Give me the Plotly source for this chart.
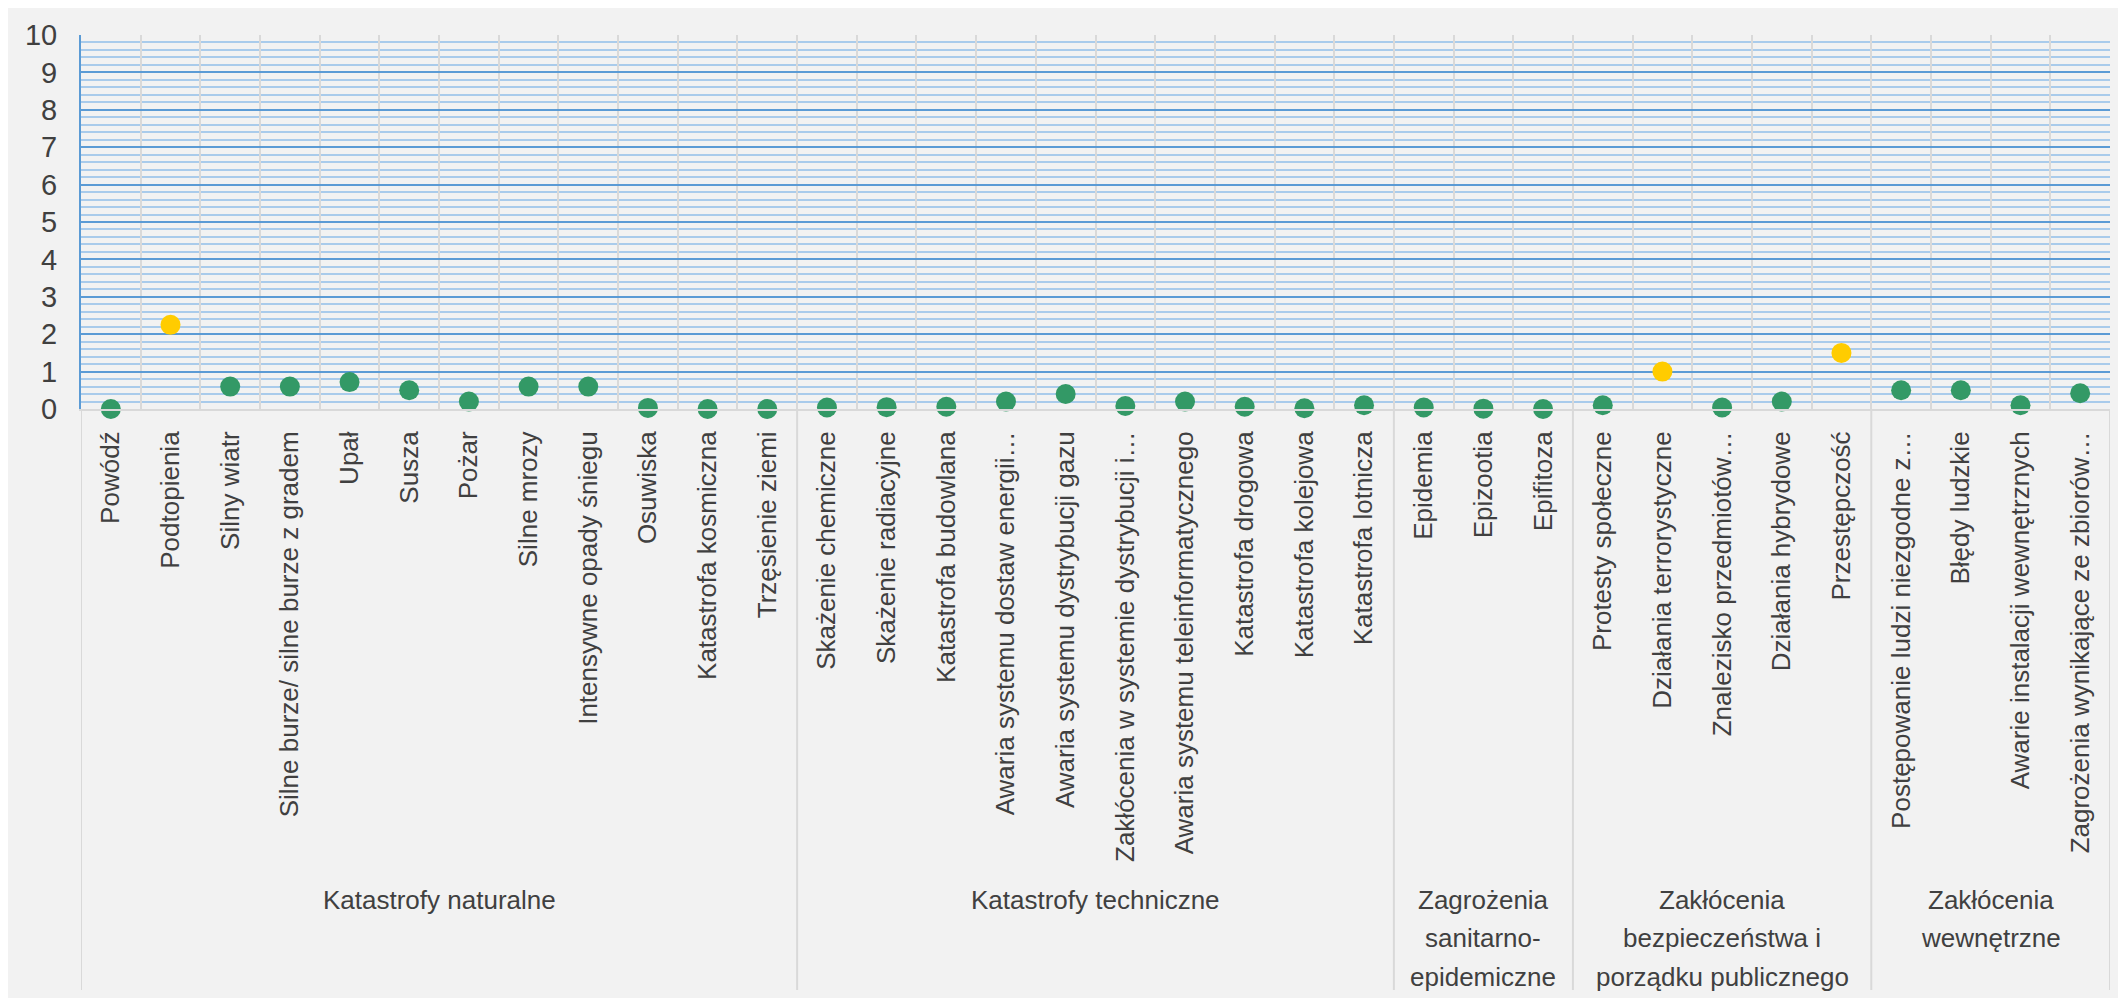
import plotly.graph_objects as go

# ---------------- data ----------------
groups = [
    "Katastrofy naturalne",
    "Katastrofy techniczne",
    "Zagrożenia<br>sanitarno-<br>epidemiczne",
    "Zakłócenia<br>bezpieczeństwa i<br>porządku publicznego",
    "Zakłócenia<br>wewnętrzne",
]

cats_natural = ["Powódź", "Podtopienia", "Silny wiatr", "Silne burze/ silne burze z gradem",
                "Upał", "Susza", "Pożar", "Silne mrozy", "Intensywne opady śniegu",
                "Osuwiska", "Katastrofa kosmiczna", "Trzęsienie ziemi"]
vals_natural = [0.0, 2.25, 0.6, 0.6, 0.72, 0.5, 0.2, 0.6, 0.6, 0.03, 0.0, 0.0]

cats_technical = ["Skażenie chemiczne", "Skażenie radiacyjne", "Katastrofa budowlana",
                  "Awaria systemu dostaw energii…", "Awaria systemu dystrybucji gazu",
                  "Zakłócenia w systemie dystrybucji i…", "Awaria systemu teleinformatycznego",
                  "Katastrofa drogowa", "Katastrofa kolejowa", "Katastrofa lotnicza"]
vals_technical = [0.04, 0.05, 0.06, 0.2, 0.4, 0.08, 0.2, 0.06, 0.02, 0.1]

cats_sanitary = ["Epidemia", "Epizootia", "Epifitoza"]
vals_sanitary = [0.04, 0.01, 0.0]

cats_security = ["Protesty społeczne", "Działania terrorystyczne", "Znalezisko przedmiotów…",
                 "Działania hybrydowe", "Przestępczość"]
vals_security = [0.1, 1.0, 0.04, 0.2, 1.5]

cats_internal = ["Postępowanie ludzi niezgodne z…", "Błędy ludzkie",
                 "Awarie instalacji wewnętrznych", "Zagrożenia wynikające ze zbiorów…"]
vals_internal = [0.5, 0.5, 0.1, 0.42]

y_ticks = [0, 1, 2, 3, 4, 5, 6, 7, 8, 9, 10]

group_cats = [cats_natural, cats_technical, cats_sanitary, cats_security, cats_internal]
group_vals = [vals_natural, vals_technical, vals_sanitary, vals_security, vals_internal]

categories = [c for g in group_cats for c in g]
values = [v for g in group_vals for v in g]

# ---------------- styles ----------------
OFF = 8                      # page body margin
W, H = 2126 - OFF, 998 - OFF
ML, MT = 81 - OFF, 35 - OFF
PR, PB = 2110 - OFF, 409 - OFF
MR, MB = W - PR, H - PB
PW, PH = W - ML - MR, H - MT - MB
FONT = "Liberation Sans, Arial, sans-serif"
FS = 26
TXT = "#404040"
GREEN = "#339966"
YELLOW = "#ffcc00"
BG = "#f2f2f2"
LINE_STEP = 38.3


def py(page_y):  # page pixel y -> paper y
    return (MT + PH - (page_y - OFF)) / PH


colors = [YELLOW if v >= 1 else GREEN for v in values]

fig = go.Figure(go.Scatter(
    x=categories, y=values, mode="markers",
    marker=dict(size=20, color=colors, line=dict(width=0)),
    cliponaxis=False, showlegend=False,
))

shapes = []
annotations = []
start = 0
for gname, gc in zip(groups, group_cats):
    n = len(gc)
    shapes.append(dict(type="line", xref="x", yref="paper", x0=start - 0.5, x1=start - 0.5,
                       y0=0, y1=py(990), line=dict(color="#d9d9d9", width=2), layer="below"))
    for i, line in enumerate(gname.split("<br>")):
        annotations.append(dict(xref="x", yref="paper", x=start + (n - 1) / 2,
                                y=py(900 + i * LINE_STEP),
                                yanchor="middle", xanchor="center", text=line, showarrow=False,
                                align="center", font=dict(family=FONT, size=FS, color=TXT)))
    start += n
shapes.append(dict(type="line", xref="x", yref="paper", x0=start - 0.5, x1=start - 0.5,
                   y0=0, y1=py(990), line=dict(color="#d9d9d9", width=2), layer="below"))

fig.update_layout(
    width=W, height=H,
    margin=dict(l=ML, r=MR, t=MT, b=MB, pad=0, autoexpand=False),
    paper_bgcolor=BG, plot_bgcolor=BG,
    font=dict(family=FONT, size=FS, color=TXT),
    shapes=shapes, annotations=annotations,
    xaxis=dict(
        type="category", tickangle=-90, tickson="boundaries", automargin=False,
        showgrid=True, gridcolor="#d9d9d9", gridwidth=2,
        showline=True, linecolor="#d9d9d9", linewidth=2,
        ticks="", ticklabelstandoff=10,
        tickfont=dict(family=FONT, size=FS, color=TXT),
        range=[-0.5, len(categories) - 0.5], fixedrange=True,
    ),
    yaxis=dict(
        range=[0, 10], tickvals=y_ticks, ticktext=[str(t) for t in y_ticks], automargin=False,
        showgrid=True, gridcolor="#5b9bd5", gridwidth=2,
        minor=dict(dtick=0.2, showgrid=True, gridcolor="#a9cbeb", gridwidth=1.5),
        zeroline=False, showline=True, linecolor="#5b9bd5", linewidth=2,
        ticks="", ticklabelstandoff=16,
        tickfont=dict(family=FONT, size=29, color=TXT),
    ),
)

fig.write_html("out.html")
